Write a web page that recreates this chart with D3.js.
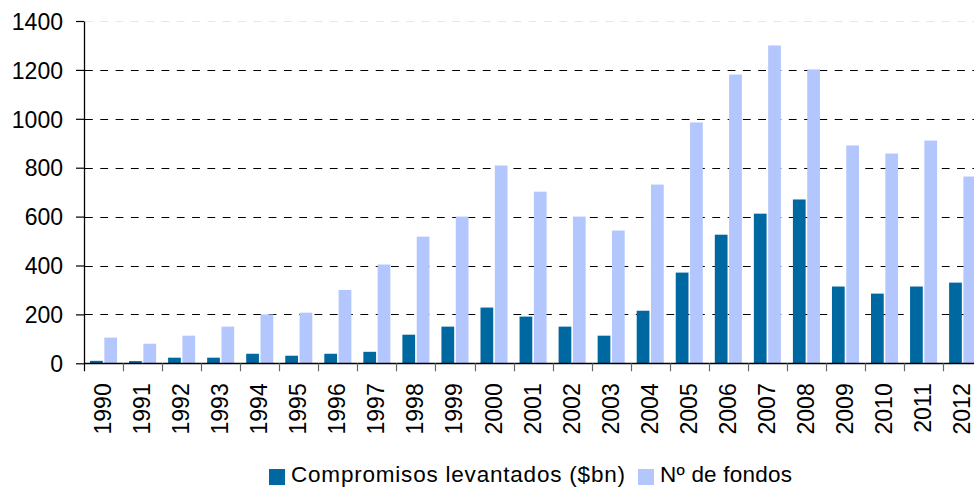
<!DOCTYPE html>
<html>
<head>
<meta charset="utf-8">
<script src="https://cdn.jsdelivr.net/npm/d3@7"></script>
<style>
  html, body { margin: 0; padding: 0; background: #fff; overflow: hidden; }
  svg { display: block; font-family: "Liberation Sans", Arial, sans-serif; }
</style>
</head>
<body>
<svg id="chart" width="974" height="487"></svg>
<script>
const years = ["1990","1991","1992","1993","1994","1995","1996","1997","1998","1999","2000","2001","2002","2003","2004","2005","2006","2007","2008","2009","2010","2011","2012"];
const compromisos = [10, 9, 23, 23, 39, 31, 39, 47, 117, 150, 228, 191, 150, 113, 215, 371, 526, 612, 670, 314, 285, 314, 330];
const fondos = [105, 80, 113, 150, 200, 207, 300, 404, 518, 600, 809, 702, 600, 543, 731, 985, 1181, 1300, 1202, 891, 858, 911, 764];
const yTicks = [0, 200, 400, 600, 800, 1000, 1200, 1400];
const seriesNames = ["Compromisos levantados ($bn)", "Nº de fondos"];
const colors = ["#0068A0", "#B4C6FE"];

const svg = d3.select("#chart");
const mLeft = 84, mTop = 21, mBottom = 363.3;
const step = 39.05;
const mRight = mLeft + step * years.length;
const FONT = "'Liberation Sans', Arial, sans-serif";

const x = d3.scaleBand().domain(years).range([mLeft, mRight]).paddingInner(0).paddingOuter(0);
const y = d3.scaleLinear().domain([0, 1400]).range([mBottom, mTop]);
const sub = d3.scaleBand().domain([0, 1]).range([6, step - 6]).paddingInner(0.111);

// gridlines
svg.append("g").selectAll("line").data(yTicks.filter(d => d > 0)).join("line")
  .attr("x1", mLeft + 1).attr("x2", 974)
  .attr("y1", d => Math.round(y(d)) + 0.5).attr("y2", d => Math.round(y(d)) + 0.5)
  .attr("stroke", d => d === 1400 ? "#e6e6e6" : "#000")
  .attr("stroke-width", 1.2)
  .attr("stroke-dasharray", "7.8,7.5");

// bars
const g = svg.append("g");
years.forEach((yr, i) => {
  [compromisos[i], fondos[i]].forEach((v, k) => {
    g.append("rect")
      .attr("x", x(yr) + sub(k))
      .attr("width", sub.bandwidth())
      .attr("y", y(v))
      .attr("height", y(0) - y(v))
      .attr("fill", colors[k]);
  });
});

// y axis
const yAxis = svg.append("g").attr("transform", `translate(${mLeft},0)`)
  .call(d3.axisLeft(y).tickValues(yTicks).tickFormat(d3.format("d")).tickSize(8).tickPadding(13).tickSizeOuter(0));
yAxis.attr("font-family", FONT).attr("font-size", 23);
yAxis.select(".domain").attr("stroke", "#000").attr("stroke-width", 1.3);
yAxis.selectAll(".tick line").attr("stroke", "#000").attr("stroke-width", 1.2);
yAxis.selectAll("text").attr("fill", "#000").attr("dy", "0.36em");

// x axis line
svg.append("line").attr("x1", mLeft).attr("x2", 974)
  .attr("y1", Math.round(mBottom) + 0.5).attr("y2", Math.round(mBottom) + 0.5)
  .attr("stroke", "#000").attr("stroke-width", 1.3);

// x ticks (category boundaries)
svg.append("g").selectAll("line").data(years).join("line")
  .attr("x1", d => Math.round(x(d)) + 0.5).attr("x2", d => Math.round(x(d)) + 0.5)
  .attr("y1", mBottom).attr("y2", mBottom + 8)
  .attr("stroke", (d, i) => i === 0 ? "#000" : "#666").attr("stroke-width", 1.2);

// x labels
svg.append("g").attr("font-family", FONT).selectAll("text").data(years).join("text")
  .attr("transform", d => `translate(${x(d) + x.bandwidth() / 2 + 7.5},${mBottom + 20}) rotate(-90)`)
  .attr("text-anchor", "end")
  .attr("font-size", 23)
  .attr("fill", "#000")
  .text(d => d);

// legend
const legend = svg.append("g").attr("font-family", FONT);
const legendX = [269, 638];
const legendW = [334, 132];
seriesNames.forEach((name, k) => {
  legend.append("rect").attr("x", legendX[k]).attr("y", 469).attr("width", 16).attr("height", 16).attr("fill", colors[k]);
  legend.append("text").attr("x", legendX[k] + 22).attr("y", 482)
    .attr("font-size", 22.5).attr("textLength", legendW[k]).attr("lengthAdjust", "spacing")
    .attr("fill", "#000").text(name);
});
</script>
</body>
</html>
